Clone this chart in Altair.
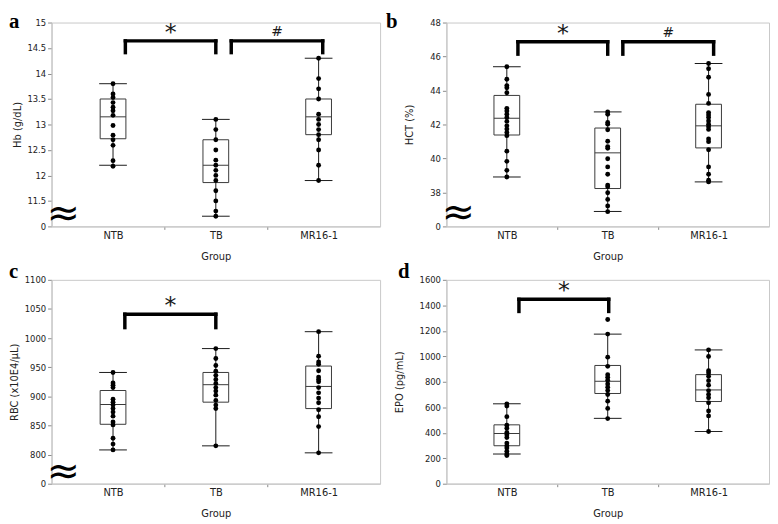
import altair as alt
import pandas as pd

GROUPS = ["NTB", "TB", "MR16-1"]
POS = [1, 2, 3]
X_DOMAIN = [0.45, 3.55]

# ---------- a : Hb ----------
hb_ntb = [13.8, 13.6, 13.53, 13.43, 13.34, 13.27, 13.18, 12.98, 12.79, 12.7, 12.59, 12.29, 12.18]
hb_tb = [13.1, 12.9, 12.7, 12.5, 12.3, 12.2, 12.1, 12.0, 11.9, 11.7, 11.5, 11.3, 11.2]
hb_mr = [14.3, 13.9, 13.7, 13.5, 13.2, 13.1, 13.0, 12.9, 12.8, 12.7, 12.5, 12.2, 11.9]
hb_min = [12.2, 11.2, 11.9]
hb_q1 = [12.72, 11.86, 12.8]
hb_med = [13.15, 12.2, 13.15]
hb_q3 = [13.5, 12.7, 13.5]
hb_max = [13.8, 13.1, 14.3]
hb_ticks = [11, 11.5, 12, 12.5, 13, 13.5, 14, 14.5, 15]
hb_br_x1 = [1.12, 2.15]
hb_br_x2 = [2.0, 3.04]
hb_br_top = [14.64, 14.64]
hb_br_bot = [14.41, 14.41]
hb_br_lab = ["*", "#"]

# ---------- b : HCT ----------
hct_ntb = [45.4, 44.66, 44.29, 44.16, 43.87, 42.95, 42.8, 42.6, 42.41, 42.18, 41.92, 41.73,
           41.53, 41.34, 40.43, 39.83, 39.3, 38.91]
hct_tb = [42.74, 42.6, 42.12, 42.02, 41.69, 41.01, 40.7, 40.6, 39.98, 39.5, 39.07, 38.43,
          38.33, 37.98, 37.59, 37.2, 36.87]
hct_mr = [45.59, 45.28, 44.78, 43.77, 43.24, 42.7, 42.56, 42.41, 42.21, 42.02, 41.87, 41.71,
          41.15, 40.99, 40.51, 39.5, 39.07, 38.72, 38.62]
hct_min = [38.91, 36.88, 38.62]
hct_q1 = [41.38, 38.23, 40.62]
hct_med = [42.37, 40.33, 41.92]
hct_q3 = [43.71, 41.79, 43.19]
hct_max = [45.4, 42.74, 45.59]
hct_ticks = [36, 38, 40, 42, 44, 46, 48]
hct_br_x1 = [1.11, 2.15]
hct_br_x2 = [2.0, 3.05]
hct_br_top = [46.87, 46.87]
hct_br_bot = [46.14, 46.14]
hct_br_lab = ["*", "#"]

# ---------- c : RBC ----------
rbc_ntb = [941, 923, 919, 915, 895, 890, 885, 879, 873, 866, 856, 851, 828, 818, 808]
rbc_tb = [982, 965, 953, 943, 936, 929, 922, 915, 909, 902, 893, 885, 879, 815]
rbc_mr = [1011, 969, 959, 955, 944, 933, 929, 925, 915, 906, 897, 889, 877, 865, 848, 803]
rbc_min = [808, 815, 803]
rbc_q1 = [852, 890, 879]
rbc_med = [886, 920, 917]
rbc_q3 = [910, 941, 952]
rbc_max = [941, 982, 1011]
rbc_ticks = [750, 800, 850, 900, 950, 1000, 1050, 1100]
rbc_br_x1 = [1.115]
rbc_br_x2 = [2.0]
rbc_br_top = [1041]
rbc_br_bot = [1018]
rbc_br_lab = ["*"]

# ---------- d : EPO ----------
epo_ntb = [627, 609, 526, 459, 436, 402, 384, 363, 319, 298, 280, 254, 233, 221]
epo_tb = [1289, 1174, 993, 921, 856, 835, 812, 783, 757, 731, 700, 648, 591, 511]
epo_mr = [1050, 998, 887, 869, 843, 809, 773, 731, 700, 674, 635, 571, 532, 410]
epo_min = [233, 513, 410]
epo_q1 = [298, 708, 645]
epo_med = [394, 804, 736]
epo_q3 = [462, 928, 856]
epo_max = [627, 1174, 1050]
epo_ticks = [0, 200, 400, 600, 800, 1000, 1200, 1400, 1600]
epo_br_x1 = [1.12]
epo_br_x2 = [2.01]
epo_br_top = [1447]
epo_br_bot = [1352]
epo_br_lab = ["*"]

FONT = "DejaVu Sans"
INK = "#1a1a1a"


def panel(letter, lx, ly, ytitle, tpad, series, mins, q1s, meds, q3s, maxs,
          ydom, yticks, zero_at, break_at, bx1, bx2, btop, bbot, blab, width, height):
    pts = pd.DataFrame({
        "pos": [p for p, s in zip(POS, series) for _ in s],
        "v": [v for s in series for v in s],
    })
    stats = pd.DataFrame({"pos": POS, "lo": mins, "q1": q1s, "med": meds, "q3": q3s, "hi": maxs})
    br = pd.DataFrame({"x1": bx1, "x2": bx2, "top": btop, "bot": bbot, "lab": blab})
    br["xm"] = (br["x1"] + br["x2"]) / 2
    legs = pd.DataFrame({
        "x": list(bx1) + list(bx2),
        "top": list(btop) * 2,
        "bot": list(bbot) * 2,
    })

    if zero_at is not None:
        lexpr = f"datum.value == {zero_at} ? '0' : toString(datum.value)"
    else:
        lexpr = "toString(datum.value)"
    yscale = alt.Scale(domain=ydom, nice=False, zero=False)
    yaxis = alt.Axis(values=yticks, labelExpr=lexpr, title=ytitle, grid=False,
                     tickSize=4, labelPadding=2, titlePadding=tpad,
                     labelFontSize=8.5, titleFontSize=10, labelOverlap=False,
                     labelFlush=False)
    xexpr = " : ".join(f"datum.value == {p} ? '{g}'" for p, g in zip(POS, GROUPS)) + " : ''"
    xscale = alt.Scale(domain=X_DOMAIN, nice=False, zero=False)
    xaxis = alt.Axis(values=[1, 1.5, 2, 2.5, 3], labelExpr=xexpr, title="Group", grid=False,
                     tickSize=3, labelPadding=1, titlePadding=11, labelFontSize=10,
                     titleFontSize=10, labelOverlap=False, labelFlush=False,
                     tickOpacity={"condition": {"test": "datum.value % 1 == 0", "value": 0},
                                  "value": 1})

    def X(f):
        return alt.X(f"{f}:Q", scale=xscale, axis=xaxis)

    def Y(f):
        return alt.Y(f"{f}:Q", scale=yscale, axis=yaxis)

    base_s = alt.Chart(stats)
    whisk = base_s.mark_rule(color=INK, strokeWidth=1).encode(x=X("pos"), y=Y("lo"), y2="hi:Q")
    box = base_s.mark_bar(size=26, fill="white", stroke="#3a3a3a", strokeWidth=1).encode(
        x=X("pos"), y=Y("q1"), y2="q3:Q")
    med = base_s.mark_tick(orient="horizontal", size=26, thickness=1, color="#3a3a3a",
                           opacity=1).encode(x=X("pos"), y=Y("med"))
    cap_lo = base_s.mark_tick(orient="horizontal", size=28, thickness=1, color=INK,
                              opacity=1).encode(x=X("pos"), y=Y("lo"))
    cap_hi = base_s.mark_tick(orient="horizontal", size=28, thickness=1, color=INK,
                              opacity=1).encode(x=X("pos"), y=Y("hi"))
    dots = alt.Chart(pts).mark_circle(size=24, color="black", opacity=1).encode(
        x=X("pos"), y=Y("v"))
    bh = alt.Chart(br).mark_rule(color="black", strokeWidth=3.5, strokeCap="square").encode(
        x=X("x1"), x2="x2:Q", y=Y("top"))
    bl = alt.Chart(legs).mark_rule(color="black", strokeWidth=3.5, strokeCap="square").encode(
        x=X("x"), y=Y("top"), y2="bot:Q")
    star = alt.Chart(br).transform_filter("datum.lab == '*'").mark_text(
        font=FONT, fontSize=24, baseline="alphabetic", dy=-1, color=INK).encode(
        x=X("xm"), y=Y("top"), text="lab:N")
    hsh = alt.Chart(br).transform_filter("datum.lab == '#'").mark_text(
        font=FONT, fontSize=14, baseline="alphabetic", dy=-5, color=INK).encode(
        x=X("xm"), y=Y("top"), text="lab:N")
    layers = [whisk, box, med, cap_lo, cap_hi, dots, bh, bl, star, hsh]

    if break_at is not None:
        bdf = pd.DataFrame({"b": [break_at], "s": ["≈"]})
        layers.append(alt.Chart(bdf).mark_text(
            font=FONT, fontSize=40, color="black", baseline="middle").encode(
            x=alt.value(12), y=Y("b"), text="s:N"))

    ldf = pd.DataFrame({"t": [letter]})
    layers.append(alt.Chart(ldf).mark_text(
        font="Liberation Serif", fontSize=21, fontWeight="bold", align="left",
        baseline="top", color="black").encode(
        x=alt.value(lx), y=alt.value(ly), text="t:N"))

    return alt.layer(*layers).properties(width=width, height=height)


pa = panel("a", -43, -11, "Hb (g/dL)", 4, [hb_ntb, hb_tb, hb_mr],
           hb_min, hb_q1, hb_med, hb_q3, hb_max, [11, 15], hb_ticks, 11, 11.25,
           hb_br_x1, hb_br_x2, hb_br_top, hb_br_bot, hb_br_lab, 332, 206)
pb = panel("b", -61, -11, "HCT (%)", 15, [hct_ntb, hct_tb, hct_mr],
           hct_min, hct_q1, hct_med, hct_q3, hct_max, [36, 48], hct_ticks, 36, 36.8,
           hct_br_x1, hct_br_x2, hct_br_top, hct_br_bot, hct_br_lab, 326, 206)
pc = panel("c", -43, -19, "RBC (x10E4/μL)", 4.5, [rbc_ntb, rbc_tb, rbc_mr],
           rbc_min, rbc_q1, rbc_med, rbc_q3, rbc_max, [750, 1100], rbc_ticks, 750, 770,
           rbc_br_x1, rbc_br_x2, rbc_br_top, rbc_br_bot, rbc_br_lab, 332, 206)
pd_ = panel("d", -49, -19, "EPO (pg/mL)", 15, [epo_ntb, epo_tb, epo_mr],
            epo_min, epo_q1, epo_med, epo_q3, epo_max, [0, 1600], epo_ticks, None, None,
            epo_br_x1, epo_br_x2, epo_br_top, epo_br_bot, epo_br_lab, 326, 206)

chart = alt.concat(pa, pb, pc, pd_, columns=2, spacing={"row": 54, "column": 67},
                   bounds="flush").properties(padding=0).configure_view(
    stroke="#c8c8c8", strokeWidth=1).configure_axis(
    labelFont=FONT, titleFont=FONT, labelColor="#222", titleColor="#222",
    titleFontWeight="normal", domainColor="#c8c8c8", domainWidth=1.2, tickColor="#8a8a8a")

chart.save("out.html", embed_options={"renderer": "svg", "actions": False})
